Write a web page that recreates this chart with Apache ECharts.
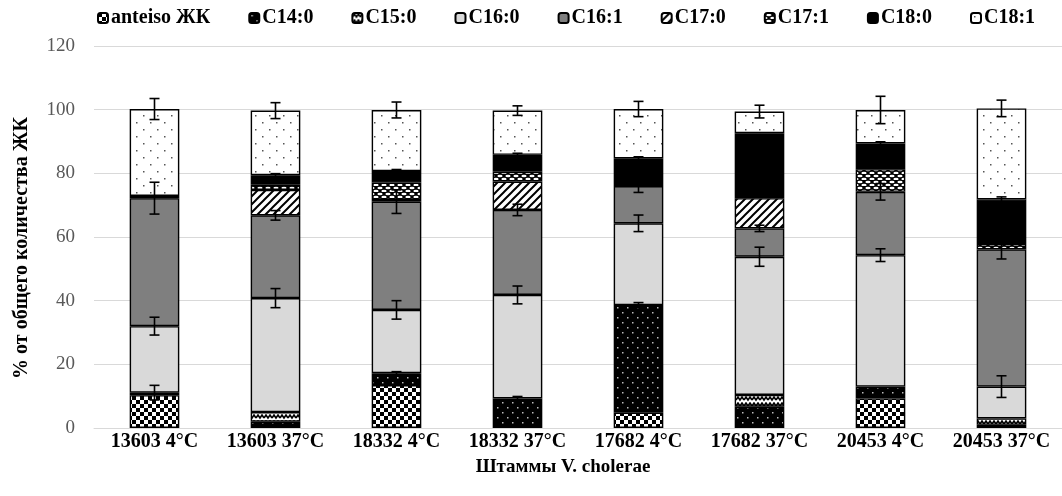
<!DOCTYPE html>
<html><head><meta charset="utf-8">
<script src="https://cdn.jsdelivr.net/npm/echarts@6/dist/echarts.min.js"></script>
<style>html,body{margin:0;padding:0;background:#fff}#c{width:1062px;height:496px}</style>
</head><body><div id="c"></div>
<script>
const categories = ['13603 4°C','13603 37°C','18332 4°C','18332 37°C','17682 4°C','17682 37°C','20453 4°C','20453 37°C'];
const seriesNames = ['anteiso ЖК','C14:0','C15:0','C16:0','C16:1','C17:0','C17:1','C18:0','C18:1'];
const anteiso = [10.3, 0, 13.5, 0, 4.8, 0, 9.3, 0];
const c14_0 = [0.8, 2, 3.7, 9.3, 33.8, 6.7, 3.7, 1];
const c15_0 = [0, 3, 0, 0, 0, 3.7, 0, 2];
const c16_0 = [20.9, 35.8, 19.9, 32.5, 25.7, 43.4, 41.3, 10];
const c16_1 = [40.2, 26, 34, 26.7, 11.7, 8.9, 19.9, 43.1];
const c17_0 = [0, 8, 0.5, 8.9, 0, 9.5, 0, 0];
const c17_1 = [0, 1.6, 5.5, 3.1, 0, 0, 7.1, 1.7];
const c18_0 = [0.7, 3, 3.6, 5.3, 8.7, 20.4, 8.1, 14];
const c18_1 = [27.3, 20.3, 19.2, 13.9, 15.5, 6.8, 10.5, 28.6];
// error bar half-widths, drawn at the top of each segment
const err_anteiso = [0, 0, 0, 0, 0, 0, 0, 0];
const err_c14_0 = [2.3, 0, 0.5, 0.6, 0.8, 0, 0, 0];
const err_c15_0 = [0, 0, 0, 0, 0, 0, 0, 0];
const err_c16_0 = [2.8, 3, 2.9, 2.8, 2.6, 3, 2, 3.4];
const err_c16_1 = [5, 1.5, 3.7, 1.8, 2, 1, 2.6, 3];
const err_c17_0 = [0, 0, 0, 0, 0, 0, 0, 0];
const err_c17_1 = [0, 0, 0, 0, 0, 0, 0, 0];
const err_c18_0 = [0, 0.5, 0.5, 0.5, 0.5, 0, 0.5, 0.8];
const err_c18_1 = [3.3, 2.5, 2.5, 1.5, 2.4, 2, 4.3, 2.6];
const yTicks = [0, 20, 40, 60, 80, 100, 120];
const xTitle = 'Штаммы V. cholerae';
const yTitle = '% от общего количества ЖК';

const values = [anteiso, c14_0, c15_0, c16_0, c16_1, c17_0, c17_1, c18_0, c18_1];
const errs = [err_anteiso, err_c14_0, err_c15_0, err_c16_0, err_c16_1, err_c17_0, err_c17_1, err_c18_0, err_c18_1];

function pat(w, h, bg, draw) {
  const c = document.createElement('canvas');
  c.width = w; c.height = h;
  const g = c.getContext('2d');
  g.fillStyle = bg; g.fillRect(0, 0, w, h);
  if (draw) draw(g);
  return { image: c, repeat: 'repeat' };
}
const fills = [
  pat(8, 8, '#fff', g => { g.fillStyle = '#000'; g.fillRect(0, 0, 4, 4); g.fillRect(4, 4, 4, 4); }),
  pat(10, 10, '#000', g => { g.fillStyle = '#bbb'; g.fillRect(2, 2, 1.5, 1.5); g.fillRect(7, 7, 1.5, 1.5); }),
  pat(8, 6, '#fff', g => { g.strokeStyle = '#000'; g.lineWidth = 1.6; g.beginPath(); g.moveTo(0, 4); g.lineTo(2, 1); g.lineTo(4, 4); g.lineTo(6, 1); g.lineTo(8, 4); g.stroke(); }),
  '#d9d9d9',
  '#7f7f7f',
  pat(8, 8, '#fff', g => { g.strokeStyle = '#000'; g.lineWidth = 2; g.beginPath();
    g.moveTo(0, 8); g.lineTo(8, 0); g.moveTo(-4, 4); g.lineTo(4, -4); g.moveTo(4, 12); g.lineTo(12, 4); g.stroke(); }),
  pat(8, 6, '#000', g => { g.fillStyle = '#fff'; g.beginPath(); g.ellipse(4, 2, 2.6, 1.3, 0, 0, Math.PI * 2); g.fill();
    g.beginPath(); g.ellipse(0, 5, 2.6, 1.3, 0, 0, Math.PI * 2); g.fill(); g.beginPath(); g.ellipse(8, 5, 2.6, 1.3, 0, 0, Math.PI * 2); g.fill(); }),
  '#000',
  pat(14, 14, '#fff', g => { g.fillStyle = '#555'; g.fillRect(3, 3, 1.5, 1.5); g.fillRect(10, 10, 1.5, 1.5); })
];

const font = '"Liberation Serif", "Times New Roman", serif';
const series = [];
const cum = categories.map(() => 0);
seriesNames.forEach((name, i) => {
  series.push({
    name, type: 'bar', stack: 'total', barWidth: '41%', z: 10,
    itemStyle: { color: fills[i], borderColor: '#000', borderWidth: 1.4 },
    emphasis: { disabled: true },
    data: values[i].map(v => v === 0 ? null : v)
  });
  const ed = [];
  values[i].forEach((v, k) => {
    cum[k] += v;
    if (errs[i][k] > 0) ed.push([k, cum[k], errs[i][k]]);
  });
  series.push({
    name: 'err_' + name, type: 'custom', silent: true, z: 30,
    encode: { x: 0, y: 1 },
    data: ed,
    renderItem(params, api) {
      const x = api.value(0), top = api.value(1), e = api.value(2);
      const p1 = api.coord([x, top + e]), p2 = api.coord([x, top - e]);
      const hw = 5, st = { stroke: '#000', lineWidth: 1.6 };
      return { type: 'group', children: [
        { type: 'line', shape: { x1: p1[0], y1: p1[1], x2: p2[0], y2: p2[1] }, style: st },
        { type: 'line', shape: { x1: p1[0] - hw, y1: p1[1], x2: p1[0] + hw, y2: p1[1] }, style: st },
        { type: 'line', shape: { x1: p2[0] - hw, y1: p2[1], x2: p2[0] + hw, y2: p2[1] }, style: st }
      ]};
    }
  });
});

const chart = echarts.init(document.getElementById('c'), null, { renderer: 'canvas' });
chart.setOption({
  animation: false,
  backgroundColor: '#fff',
  legend: {
    data: seriesNames, top: 3, left: 92, itemWidth: 10, itemHeight: 10, itemGap: 38,
    textStyle: { fontFamily: font, fontWeight: 'bold', fontSize: 20, color: '#000', padding: [0, 0, 0, -2] },
    selectedMode: false
  },
  grid: { left: 94, right: -8, top: 46, bottom: 68, containLabel: false },
  xAxis: {
    type: 'category', data: categories,
    axisLine: { lineStyle: { color: '#d9d9d9', width: 1 } },
    axisTick: { show: false },
    axisLabel: { interval: 0, margin: 4, color: '#000', fontFamily: font, fontWeight: 'bold', fontSize: 20 }
  },
  yAxis: {
    type: 'value', min: yTicks[0], max: yTicks[yTicks.length - 1], interval: yTicks[1] - yTicks[0],
    axisLine: { show: false }, axisTick: { show: false },
    splitLine: { lineStyle: { color: '#d9d9d9', width: 1 } },
    axisLabel: { margin: 19, color: '#595959', fontFamily: font, fontSize: 19 }
  },
  graphic: [
    { type: 'text', x: 22, y: 248, rotation: Math.PI / 2,
      style: { text: yTitle, fill: '#000', font: 'bold 20px ' + font, textAlign: 'center', textVerticalAlign: 'middle', align: 'center', verticalAlign: 'middle' } },
    { type: 'text', x: 563, y: 467,
      style: { text: xTitle, fill: '#000', font: 'bold 19px ' + font, textAlign: 'center', textVerticalAlign: 'middle', align: 'center', verticalAlign: 'middle' } }
  ],
  series
});
</script>
</body></html>
